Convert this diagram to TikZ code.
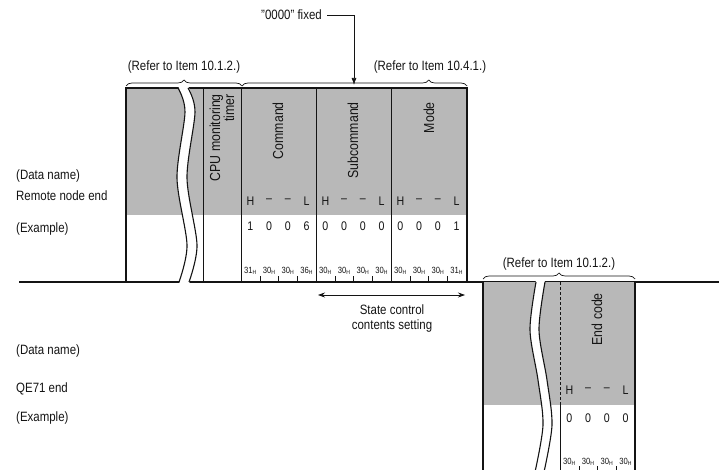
\documentclass[tikz,border=0pt]{standalone}
\usepackage{fontspec}
\setmainfont{Liberation Sans}[FakeStretch=0.85]
\usepackage{tikz}
\usetikzlibrary{arrows.meta, positioning, calc, decorations.pathreplacing}
\definecolor{screen}{RGB}{184, 184, 184}
\definecolor{ink}{RGB}{20, 20, 20}
\tikzset{
  font=\fontsize{13.5}{15}\selectfont,
  textlabel/.style={inner sep=0pt, text=ink},
  rowlabel/.style={textlabel, anchor=west},
  fieldlabel/.style={textlabel, rotate=90, anchor=east, font=\fontsize{14.5}{14}\selectfont},
  bytecell/.style={textlabel, font=\fontsize{12.5}{14}\selectfont},
  hexcell/.style={textlabel, font=\fontsize{9}{10}\selectfont},
  screenfill/.style={fill=screen, draw=none},
  framerule/.style={draw=ink, line width=1.4pt},
  fieldrule/.style={draw=ink, line width=0.6pt},
  tickrule/.style={draw=ink, line width=0.5pt},
  breakline/.style={draw=ink, line width=1.1pt},
  refbrace/.style={
    draw=ink, line width=0.7pt, decorate,
    decoration={brace, amplitude=6pt}
  },
  pointline/.style={
    draw=ink, -{Latex[length=7pt, width=5pt]}, line width=0.7pt
  },
  spanline/.style={
    draw=ink, {Stealth[length=7pt, width=5pt]}-{Stealth[length=7pt, width=5pt]}, line width=0.7pt
  }
}

\begin{document}
\begin{tikzpicture}[x=1pt, y=-1pt]
  \useasboundingbox (0,0) rectangle (719,470);

  % Row labels
  \node[rowlabel] (dataname) at (16,176) {(Data name)};
  \node[rowlabel] (remoteend) at (16,196) {Remote node end};
  \node[rowlabel] (example) at (16,229) {(Example)};
  \node[rowlabel] (datanameqe) at (16,351) {(Data name)};
  \node[rowlabel] (qeend) at (16,389) {QE71 end};
  \node[rowlabel] (exampleqe) at (16,418) {(Example)};

  % Remote node end frame
  \fill[screenfill] (126,88) rectangle (467,215);
  \draw[fieldrule] (203,88) -- (203,282);
  \foreach \x in {241,316,391}
    \draw[fieldrule] (\x,88) -- (\x,282);
  \foreach \k in {1,2,3,5,6,7,9,10,11}
    \draw[tickrule] (241+\k*18.75,276) -- (241+\k*18.75,282);
  \draw[framerule] (126,282) -- (126,88) -- (467,88);
  \draw[draw=ink, line width=2pt] (467,87.3) -- (467,282);
  \draw[framerule] (19,282) -- (719,282);

  % Break in the Remote node end frame
  \fill[white] plot[smooth] coordinates {(178,86) (185,112) (177,178) (187,245) (179,284)}
    -- plot[smooth] coordinates {(189,284) (197,245) (187,178) (195,112) (188,86)} -- cycle;
  \draw[breakline] plot[smooth] coordinates {(178,88) (185,112) (177,178) (187,245) (179,282)};
  \draw[breakline] plot[smooth] coordinates {(188,88) (195,112) (187,178) (197,245) (189,282)};

  % Field names
  \node[fieldlabel, align=right] (cputimer) at (222,94) {CPU monitoring\\timer};
  \node[fieldlabel] (command) at (278,102) {Command};
  \node[fieldlabel] (subcommand) at (353,102) {Subcommand};
  \node[fieldlabel] (mode) at (429,102) {Mode};

  % Byte order, example values and codes
  \foreach \m [count=\i from 0] in {H,--,--,L,H,--,--,L,H,--,--,L}
    \node[bytecell] (order\i) at (250.4+\i*18.75,201) {\m};
  \foreach \d/\hx [count=\i from 0] in {1/31,0/30,0/30,6/36,0/30,0/30,0/30,0/30,0/30,0/30,0/30,1/31} {
    \node[bytecell] (byte\i) at (250.4+\i*18.75,226) {\d};
    \node[hexcell] (hex\i) at (250.4+\i*18.75,271) {\hx\textsubscript{H}};
  }

  % References above the frame
  \coordinate (refastart) at (126,86);
  \coordinate (refamid) at (242,86);
  \coordinate (refaend) at (467,86);
  \draw[refbrace] (refastart) -- (refamid);
  \draw[refbrace, decoration={brace, amplitude=6pt, aspect=0.83}] (refamid) -- (refaend);
  \node[textlabel] (refertop) at (184,67) {(Refer to Item 10.1.2.)};
  \node[textlabel] (refermode) at (430,67) {(Refer to Item 10.4.1.)};

  % "0000" fixed pointer
  \node[textlabel, anchor=east] (fixed) at (322,15) {"0000" fixed};
  \coordinate (fixtip) at (354,85);
  \draw[pointline, shorten <=5pt] (fixed.east) -| (fixtip);

  % State control span
  \coordinate (spanleft) at (318,295);
  \coordinate (spanright) at (465,295);
  \draw[spanline] (spanleft) -- (spanright);
  \node[textlabel, align=center] (setting) at (392,319) {State control\\contents setting};

  % QE71 end frame
  \fill[screenfill] (483,282) rectangle (635,405);
  \draw[fieldrule, densely dashed] (560,282) -- (560,405);
  \draw[fieldrule] (560,405) -- (560,472);
  \draw[framerule] (483,472) -- (483,282);
  \draw[framerule] (635,282) -- (635,472);
  \foreach \k in {1,2,3}
    \draw[tickrule] (560+\k*18.75,466) -- (560+\k*18.75,472);
  \fill[white] plot[smooth] coordinates {(536,280) (530,330) (538,380) (543,425) (535,474)}
    -- plot[smooth] coordinates {(544,474) (552,425) (547,380) (539,330) (545,280)} -- cycle;
  \draw[breakline] plot[smooth] coordinates {(536,282) (530,330) (538,380) (543,425) (535,472)};
  \draw[breakline] plot[smooth] coordinates {(545,282) (539,330) (547,380) (552,425) (544,472)};
  \node[fieldlabel] (endcode) at (597,293) {End code};
  \foreach \m [count=\i from 0] in {H,--,--,L}
    \node[bytecell] (endorder\i) at (569.4+\i*18.75,390) {\m};
  \foreach \i in {0,1,2,3} {
    \node[bytecell] (endbyte\i) at (569.4+\i*18.75,418) {0};
    \node[hexcell] (endhex\i) at (569.4+\i*18.75,462) {30\textsubscript{H}};
  }
  \coordinate (refbstart) at (483,279);
  \coordinate (refbend) at (635,279);
  \draw[refbrace] (refbstart) -- (refbend);
  \node[textlabel] (referend) at (559,264) {(Refer to Item 10.1.2.)};

\end{tikzpicture}
\end{document}
